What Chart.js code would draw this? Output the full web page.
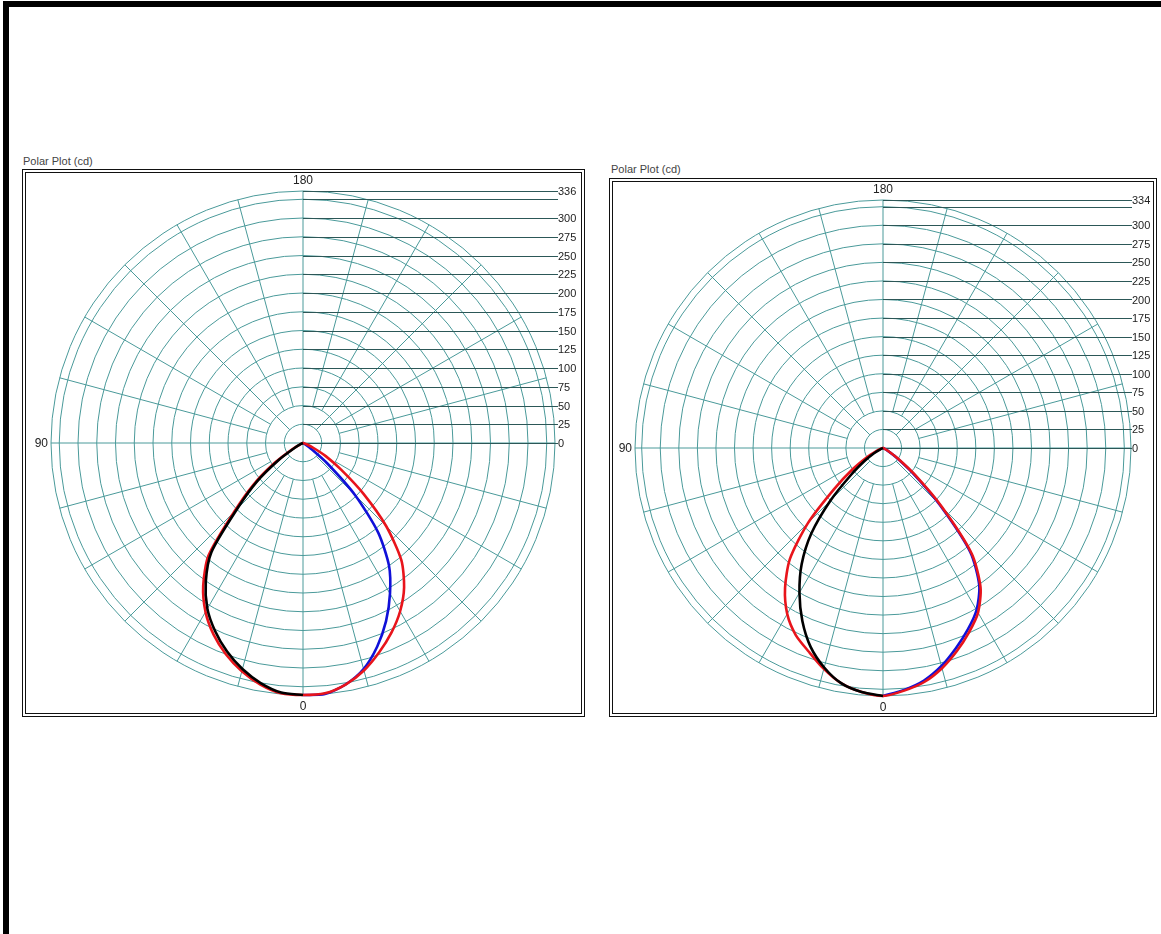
<!DOCTYPE html>
<html lang="en">
<head>
<meta charset="utf-8">
<title>Polar Plot (cd)</title>
<script src="https://cdn.jsdelivr.net/npm/chart.js"></script>
<style>
    body {
        margin: 0;
        width: 1161px;
        height: 934px;
        overflow: hidden;
        position: relative;
        background: #fff;
        font-family: 'Liberation Sans', Arial, sans-serif;
    }
    .frame {
        position: absolute;
        left: 3px;
        top: 1px;
        right: -20px;
        bottom: -20px;
        border-top: 6px solid #000;
        border-left: 6px solid #000;
    }
    .title {
        position: absolute;
        font-size: 11px;
        color: #444;
    }
    .plot-box {
        position: absolute;
        box-sizing: border-box;
        border: 4px double #111;
        background: #fff;
    }
    .plot-box canvas { display: block; }
</style>
</head>
<body>
<div class="frame"></div>

<div class="title" style="left:23px; top:155px;">Polar Plot (cd)</div>
<div class="plot-box" style="left:22px; top:169px; width:563px; height:548px;">
    <canvas id="polarA"></canvas>
</div>

<div class="title" style="left:611px; top:163px;">Polar Plot (cd)</div>
<div class="plot-box" style="left:609px; top:178px; width:548px; height:539px;">
    <canvas id="polarB"></canvas>
</div>

<script>
// gamma angles (deg), 0 = straight down, 90 = left, 180 = up, 270 = right
const gammaAngles = [0, 5, 10, 15, 20, 25, 30, 35, 40, 45, 50, 55, 60, 65, 70, 75, 80, 85,
    90, 95, 100, 105, 110, 115, 120, 125, 130, 135, 140, 145, 150, 155, 160, 165, 170, 175,
    180, 185, 190, 195, 200, 205, 210, 215, 220, 225, 230, 235, 240, 245, 250, 255, 260, 265,
    270, 275, 280, 285, 290, 295, 300, 305, 310, 315, 320, 325, 330, 335, 340, 345, 350, 355];

// radial rings and the values written on the right
const ringsA = [0, 25, 50, 75, 100, 125, 150, 175, 200, 225, 250, 275, 300, 325, 336];
const tickLabelsA = [0, 25, 50, 75, 100, 125, 150, 175, 200, 225, 250, 275, 300, 336];
const ringsB = [0, 25, 50, 75, 100, 125, 150, 175, 200, 225, 250, 275, 300, 325, 334];
const tickLabelsB = [0, 25, 50, 75, 100, 125, 150, 175, 200, 225, 250, 275, 300, 334];

// half-plane intensities (cd) for gamma 0..90 every 5 deg
// plot A
const blackLeftA = [336, 334, 325, 312, 296, 277, 255, 226, 190, 124, 81, 40, 12, 3, 0, 0, 0, 0, 0];
const redLeftA   = [336, 335, 327, 315, 300, 282, 260, 232, 196, 130, 86, 46, 16, 4, 0, 0, 0, 0, 0];
const blueRightA = [336, 336, 327, 312, 289, 262, 232, 200, 156, 98, 42, 12, 3, 0, 0, 0, 0, 0, 0];
const redRightA  = [336, 335, 327, 314, 297, 279, 259, 235, 204, 157, 105, 62, 35, 15, 5, 1, 0, 0, 0];
// plot B
const blackLeftB = [334, 330, 322, 306, 285, 257, 225, 191, 150, 100, 56, 30, 14, 4, 0, 0, 0, 0, 0];
const redLeftB   = [334, 330, 322, 308, 292, 278, 258, 230, 195, 143, 86, 50, 25, 10, 3, 0, 0, 0, 0];
const blueRightB = [334, 327, 318, 304, 287, 270, 252, 226, 183, 108, 52, 21, 7, 2, 0, 0, 0, 0, 0];
const redRightB  = [334, 328, 320, 307, 291, 274, 256, 229, 186, 112, 56, 24, 8, 2, 0, 0, 0, 0, 0];

const gridColor = '#4a9a9a';
const tickLineColor = '#2c5757';
const labelColor = '#222';

// map a half-plane array onto the full 0..355 gamma list
function leftSide(vals) {
    return gammaAngles.map(g => g <= 90 ? vals[g / 5] : (g <= 180 ? 0 : null));
}
function rightSide(vals) {
    return gammaAngles.map(g => {
        if (g === 0) return vals[0];
        if (g >= 270) return vals[(360 - g) / 5];
        if (g >= 180) return 0;
        return null;
    });
}
function bothSides(left, right) {
    return gammaAngles.map(g => g <= 180 ? (g <= 90 ? left[g / 5] : 0)
                                         : (g >= 270 ? right[(360 - g) / 5] : 0));
}

// spokes, horizontal value lines and labels
const polarDecor = {
    id: 'polarDecor',
    beforeDatasetsDraw(chart, args, opts) {
        const r = chart.scales.r;
        const ctx = chart.ctx;
        const cx = r.xCenter, cy = r.yCenter, R = r.drawingArea;
        ctx.save();
        ctx.lineWidth = 1;

        ctx.strokeStyle = gridColor;
        gammaAngles.forEach((g, i) => {
            if (g % 15 !== 0) return;
            const from = g % 90 === 0 ? 0 : (g % 45 === 0 ? 25 : 50);
            const p0 = r.getPointPositionForValue(i, from);
            const p1 = r.getPointPositionForValue(i, r.max);
            ctx.beginPath();
            ctx.moveTo(p0.x, p0.y);
            ctx.lineTo(p1.x, p1.y);
            ctx.stroke();
        });

        ctx.strokeStyle = tickLineColor;
        opts.rings.forEach(v => {
            const y = Math.round(cy - r.getDistanceFromCenterForValue(v)) + 0.5;
            ctx.beginPath();
            ctx.moveTo(cx, y);
            ctx.lineTo(cx + R + opts.gap, y);
            ctx.stroke();
        });

        ctx.fillStyle = labelColor;
        ctx.font = '11px "Liberation Sans", Arial, sans-serif';
        ctx.textBaseline = 'middle';
        ctx.textAlign = 'left';
        opts.labels.forEach(v => {
            const y = cy - r.getDistanceFromCenterForValue(v);
            ctx.fillText(String(v), cx + R + opts.gap, y + 1);
        });

        ctx.font = '12px "Liberation Sans", Arial, sans-serif';
        ctx.textAlign = 'center';
        const top = r.getPointPositionForValue(gammaAngles.indexOf(180), r.max);
        const bottom = r.getPointPositionForValue(gammaAngles.indexOf(0), r.max);
        const left = r.getPointPositionForValue(gammaAngles.indexOf(90), r.max);
        ctx.fillText('180', top.x, top.y - 10);
        ctx.fillText('0', bottom.x, bottom.y + 12);
        ctx.textAlign = 'right';
        ctx.fillText('90', left.x - 3, left.y + 1);
        ctx.restore();
    }
};

function makePolar(id, max, rings, labels, gap, padding, black, red, blue) {
    return new Chart(document.getElementById(id), {
        type: 'radar',
        data: {
            labels: gammaAngles,
            datasets: [
                { label: 'C90', data: black, borderColor: '#000000' },
                { label: 'C0-C180', data: red, borderColor: '#e8141b' },
                { label: 'C270', data: blue, borderColor: '#1010d8' }
            ]
        },
        options: {
            responsive: true,
            maintainAspectRatio: false,
            animation: false,
            layout: { padding: padding },
            plugins: {
                legend: { display: false },
                tooltip: { enabled: false },
                polarDecor: { rings: rings, labels: labels, gap: gap }
            },
            elements: {
                point: { radius: 0 },
                line: { tension: 0.25, borderWidth: 2.6, fill: false, backgroundColor: 'transparent' }
            },
            scales: {
                r: {
                    min: 0,
                    max: max,
                    startAngle: 180,
                    angleLines: { display: false },
                    pointLabels: { display: false },
                    ticks: { display: false },
                    grid: { circular: true, color: gridColor, lineWidth: 1 },
                    afterBuildTicks: s => { s.ticks = rings.map(v => ({ value: v })); }
                }
            }
        },
        plugins: [polarDecor]
    });
}

makePolar('polarA', 336, ringsA, tickLabelsA, 3,
    { left: 25, top: 18, right: 26, bottom: 18 },
    leftSide(blackLeftA), bothSides(redLeftA, redRightA), rightSide(blueRightA));

makePolar('polarB', 334, ringsB, tickLabelsB, 1,
    { left: 22, top: 18, right: 22, bottom: 17 },
    leftSide(blackLeftB), bothSides(redLeftB, redRightB), rightSide(blueRightB));
</script>
</body>
</html>
